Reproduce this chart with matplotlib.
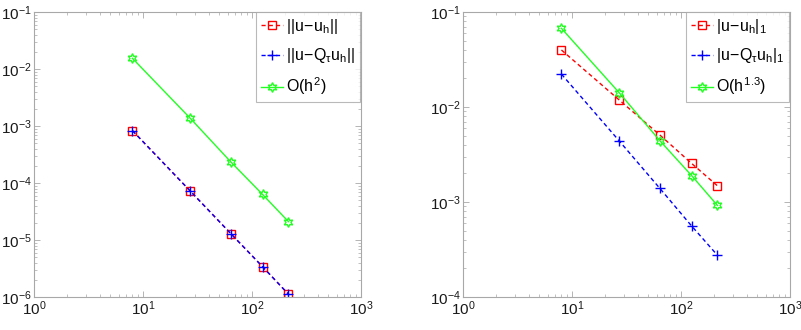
import matplotlib
matplotlib.use("Agg")
import matplotlib.pyplot as plt
from matplotlib.ticker import LogLocator, NullFormatter

plt.rcParams['font.family'] = ['Liberation Sans', 'DejaVu Sans']
plt.rcParams['mathtext.fontset'] = 'custom'
plt.rcParams['mathtext.rm'] = 'Liberation Sans'
plt.rcParams['mathtext.it'] = 'Liberation Sans'
plt.rcParams['mathtext.bf'] = 'Liberation Sans:bold'

# data
N = [8, 27, 64, 125, 216]
err_L2_uh = [8.3e-4, 7.3e-5, 1.29e-5, 3.4e-6, 1.12e-6]
err_L2_Quh = [8.3e-4, 7.3e-5, 1.29e-5, 3.4e-6, 1.12e-6]
ref_L2 = [1.54e-2, 1.38e-3, 2.34e-4, 6.3e-5, 2.1e-5]

err_H1_uh = [3.98e-2, 1.19e-2, 5.07e-3, 2.55e-3, 1.48e-3]
err_H1_Quh = [2.22e-2, 4.42e-3, 1.39e-3, 5.6e-4, 2.75e-4]
ref_H1 = [6.73e-2, 1.42e-2, 4.42e-3, 1.9e-3, 9.2e-4]

labels_left = [r'$||u\!-\!u_h||$', r'$||u\!-\!Q_{\tau}u_h||$', r'$O(h^2)$']
labels_right = [r'$|u\!-\!u_h|_1$', r'$|u\!-\!Q_{\tau}u_h|_1$', r'$O(h^{1.3})$']

W, H = 801, 330
fig = plt.figure(figsize=(W / 100, H / 100), dpi=100)

def px_axes(x0, x1, y0, y1):
    return fig.add_axes([x0 / W, 1 - y1 / H, (x1 - x0) / W, (y1 - y0) / H])

axL = px_axes(34, 361, 12, 297)
axR = px_axes(463, 790, 12, 297)

red = '#ff0000'
blue = '#0000ff'
green = '#22ff22'
hexagram = (6, 1, 0)
dash = (3, 2.2)

def style(ax, ylim):
    ax.set_xscale('log')
    ax.set_yscale('log')
    ax.set_xlim(1, 1e3)
    ax.set_ylim(*ylim)
    ax.xaxis.set_major_locator(LogLocator(base=10, numticks=10))
    ax.yaxis.set_major_locator(LogLocator(base=10, numticks=10))
    ax.xaxis.set_minor_locator(LogLocator(base=10, subs=range(2, 10), numticks=20))
    ax.yaxis.set_minor_locator(LogLocator(base=10, subs=range(2, 10), numticks=20))
    ax.xaxis.set_minor_formatter(NullFormatter())
    ax.yaxis.set_minor_formatter(NullFormatter())
    for s in ax.spines.values():
        s.set_color('#a8a8a8')
        s.set_linewidth(0.8)
    ax.tick_params(which='both', direction='in', top=True, right=True,
                   color='#a8a8a8', labelsize=11, labelcolor='#1a1a1a')
    ax.tick_params(which='major', length=4, width=0.6, pad=1.5)
    ax.tick_params(which='minor', length=2, width=0.5)

def legend(ax, labels):
    leg = ax.legend(labels=labels, loc='upper right', bbox_to_anchor=(0.996, 1.0),
                    borderaxespad=0, fancybox=False, frameon=True, fontsize=11.5,
                    handlelength=1.4, handletextpad=0.15, labelspacing=0.65,
                    borderpad=0.3)
    leg.get_frame().set_edgecolor('#a8a8a8')
    leg.get_frame().set_linewidth(0.8)
    return leg

kw = dict(lw=1.0, mew=1.0)
# left panel
axL.plot(N, err_L2_uh, '--', dashes=dash, color=red, marker='s', mfc='none', mec=red,
         ms=5.5, **kw)
axL.plot(N, err_L2_Quh, '--', dashes=dash, color=blue, marker='+', mec=blue,
         ms=7, **kw)
axL.plot(N, ref_L2, '-', color=green, marker=hexagram, mfc='none', mec=green,
         ms=7, **kw)
style(axL, (1e-6, 1e-1))
legend(axL, labels_left)

# right panel
axR.plot(N, err_H1_uh, '--', dashes=dash, color=red, marker='s', mfc='none', mec=red,
         ms=5.5, **kw)
axR.plot(N, err_H1_Quh, '--', dashes=dash, color=blue, marker='+', mec=blue,
         ms=7, **kw)
axR.plot(N, ref_H1, '-', color=green, marker=hexagram, mfc='none', mec=green,
         ms=7, **kw)
style(axR, (1e-4, 1e-1))
legend(axR, labels_right)

fig.savefig('out.png', dpi=100)
